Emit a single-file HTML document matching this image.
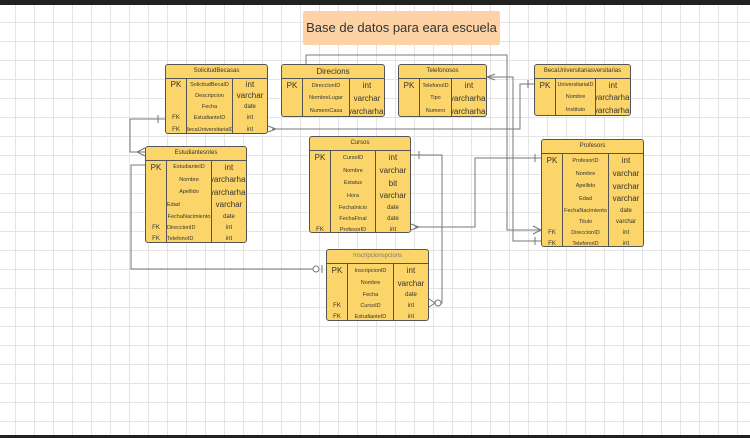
<!DOCTYPE html>
<html><head><style>
body{margin:0;width:750px;height:438px;overflow:hidden;background:#fff;font-family:"Liberation Sans",sans-serif;position:relative}
.grid{position:absolute;left:0;top:0;width:750px;height:438px;background-image:linear-gradient(#e4e4e4 1px,transparent 1px),linear-gradient(90deg,#e4e4e4 1px,transparent 1px);background-size:19px 19px;background-position:-4px 3px}
.t{position:absolute;background:#fcd56a;border:1px solid #555;border-radius:3px;box-sizing:border-box;overflow:hidden}
.h{height:13px;border-bottom:1px solid #555;font-size:6px;text-align:center;line-height:13px;color:#333}
.r{display:flex;font-size:5.5px;color:#333;align-items:stretch}
.r div{display:flex;align-items:center;justify-content:center;white-space:nowrap;overflow:hidden}
.a{width:20px;font-size:8px}
.b{border-left:1px solid #555;border-right:1px solid #555;flex:1}
.b.l{justify-content:flex-start!important}
.c{width:34px;font-size:8px}
.s{font-size:6px}
svg{position:absolute;left:0;top:0}
</style></head><body>
<div class="grid"></div>
<div style="position:absolute;left:0;top:0;width:750px;height:5px;background:#222"></div>
<div style="position:absolute;left:0;top:435px;width:750px;height:3px;background:#222"></div>
<div style="position:absolute;left:303px;top:11px;width:197px;height:34px;background:#fdd3a6;border-radius:2px;font-size:13px;line-height:34px;text-align:center;color:#333">Base de datos para eara escuela</div>

<svg width="750" height="438" fill="none" stroke="#777" stroke-width="1">
<polyline points="272,129 520,129 520,84 534,84"/>
<path d="M268,126 L276,129 L268,132"/>
<line x1="528" y1="80" x2="528" y2="88"/>
<polyline points="487,77 513,77 513,241 541,241"/>
<path d="M495,74 L487,77 L495,80"/>
<line x1="535" y1="237" x2="535" y2="245"/>
<polyline points="306,64 306,55 507,55 507,230 541,230"/>
<path d="M533,226 L541,230 L533,234"/>
<polyline points="165,119 130,119 130,152 145,152"/>
<line x1="158" y1="115" x2="158" y2="123"/>
<path d="M145,148 L137,152 L145,156"/>
<polyline points="145,165 131,165 131,269 314,269"/>
<circle cx="316" cy="269" r="3" fill="#fff"/>
<line x1="322" y1="265" x2="322" y2="273"/>
<polyline points="411,155 442,155 442,303 438,303"/>
<line x1="419" y1="151" x2="419" y2="159"/>
<circle cx="438" cy="303" r="3" fill="#fff"/>
<path d="M429,299 L435,303 L429,307"/>
<polyline points="415,227 475,227 475,158 541,158"/>
<path d="M411,224 L419,227 L411,230"/>
<line x1="535" y1="154" x2="535" y2="162"/>
</svg>

<div class="t" style="left:165px;top:64px;width:103px;height:70px"><div class="h">SolicitudBecasas</div>
<div class="r" style="height:11px"><div class="a">PK</div><div class="b">SolicitudBecaID</div><div class="c">int</div></div>
<div class="r" style="height:11px"><div class="a"></div><div class="b">Descripcion</div><div class="c">varchar</div></div>
<div class="r" style="height:11px"><div class="a"></div><div class="b">Fecha</div><div class="c s">date</div></div>
<div class="r" style="height:11px"><div class="a s">FK</div><div class="b">EstudianteID</div><div class="c s">int</div></div>
<div class="r" style="height:13px"><div class="a s">FK</div><div class="b">BecaUniversitariaID</div><div class="c s">int</div></div></div>

<div class="t" style="left:281px;top:64px;width:104px;height:53px"><div class="h" style="font-size:8px">Direcions</div>
<div class="r" style="height:13px"><div class="a">PK</div><div class="b">DireccionID</div><div class="c">int</div></div>
<div class="r" style="height:12px"><div class="a"></div><div class="b">NombreLugar</div><div class="c">varchar</div></div>
<div class="r" style="height:14px"><div class="a"></div><div class="b">NumeroCasa</div><div class="c">varcharhar</div></div></div>

<div class="t" style="left:398px;top:64px;width:89px;height:53px"><div class="h">Telefonosos</div>
<div class="r" style="height:13px"><div class="a">PK</div><div class="b">TelefonoID</div><div class="c">int</div></div>
<div class="r" style="height:12px"><div class="a"></div><div class="b">Tipo</div><div class="c">varcharhar</div></div>
<div class="r" style="height:14px"><div class="a"></div><div class="b">Numero</div><div class="c">varcharhar</div></div></div>

<div class="t" style="left:534px;top:64px;width:97px;height:52px"><div class="h">BecaUniversitariasversitarias</div>
<div class="r" style="height:12px"><div class="a">PK</div><div class="b">UniversitariaID</div><div class="c">int</div></div>
<div class="r" style="height:12px"><div class="a"></div><div class="b">Nombre</div><div class="c">varcharhar</div></div>
<div class="r" style="height:14px"><div class="a"></div><div class="b">Instituto</div><div class="c">varcharhar</div></div></div>

<div class="t" style="left:145px;top:146px;width:102px;height:97px"><div class="h">Estudiantesntes</div>
<div class="r" style="height:12px"><div class="a">PK</div><div class="b">EstudianteID</div><div class="c">int</div></div>
<div class="r" style="height:13px"><div class="a"></div><div class="b">Nombre</div><div class="c">varcharhar</div></div>
<div class="r" style="height:12px"><div class="a"></div><div class="b">Apellido</div><div class="c">varcharhar</div></div>
<div class="r" style="height:13px"><div class="a"></div><div class="b l">Edad</div><div class="c">varchar</div></div>
<div class="r" style="height:11px"><div class="a"></div><div class="b">FechaNacimiento</div><div class="c s">date</div></div>
<div class="r" style="height:11px"><div class="a s">FK</div><div class="b l">DireccionID</div><div class="c s">int</div></div>
<div class="r" style="height:12px"><div class="a s">FK</div><div class="b l">TelefonoID</div><div class="c s">int</div></div></div>

<div class="t" style="left:309px;top:136px;width:102px;height:97px"><div class="h">Cursos</div>
<div class="r" style="height:13px"><div class="a">PK</div><div class="b">CursoID</div><div class="c">int</div></div>
<div class="r" style="height:13px"><div class="a"></div><div class="b">Nombre</div><div class="c">varchar</div></div>
<div class="r" style="height:12px"><div class="a"></div><div class="b">Estatus</div><div class="c">bit</div></div>
<div class="r" style="height:13px"><div class="a"></div><div class="b">Hora</div><div class="c">varchar</div></div>
<div class="r" style="height:11px"><div class="a"></div><div class="b">FechaInicio</div><div class="c s">date</div></div>
<div class="r" style="height:11px"><div class="a"></div><div class="b">FechaFinal</div><div class="c s">date</div></div>
<div class="r" style="height:12px"><div class="a s">FK</div><div class="b">ProfesorID</div><div class="c s">int</div></div></div>

<div class="t" style="left:541px;top:139px;width:103px;height:108px"><div class="h">Profesors</div>
<div class="r" style="height:13px"><div class="a">PK</div><div class="b">ProfesorID</div><div class="c">int</div></div>
<div class="r" style="height:13px"><div class="a"></div><div class="b">Nombre</div><div class="c">varchar</div></div>
<div class="r" style="height:12px"><div class="a"></div><div class="b">Apellido</div><div class="c">varchar</div></div>
<div class="r" style="height:13px"><div class="a"></div><div class="b">Edad</div><div class="c">varchar</div></div>
<div class="r" style="height:11px"><div class="a"></div><div class="b">FechaNacimiento</div><div class="c s">date</div></div>
<div class="r" style="height:11px"><div class="a"></div><div class="b">Titulo</div><div class="c s">varchar</div></div>
<div class="r" style="height:11px"><div class="a s">FK</div><div class="b">DireccionID</div><div class="c s">int</div></div>
<div class="r" style="height:12px"><div class="a s">FK</div><div class="b">TelefonoID</div><div class="c s">int</div></div></div>

<div class="t" style="left:326px;top:249px;width:103px;height:72px"><div class="h" style="color:#777">Inscripcionspcions</div>
<div class="r" style="height:13px"><div class="a">PK</div><div class="b">InscripcionID</div><div class="c">int</div></div>
<div class="r" style="height:12px"><div class="a"></div><div class="b">Nombre</div><div class="c">varchar</div></div>
<div class="r" style="height:11px"><div class="a"></div><div class="b">Fecha</div><div class="c s">date</div></div>
<div class="r" style="height:11px"><div class="a s">FK</div><div class="b">CursoID</div><div class="c s">int</div></div>
<div class="r" style="height:12px"><div class="a s">FK</div><div class="b">EstudianteID</div><div class="c s">int</div></div></div>
</body></html>
